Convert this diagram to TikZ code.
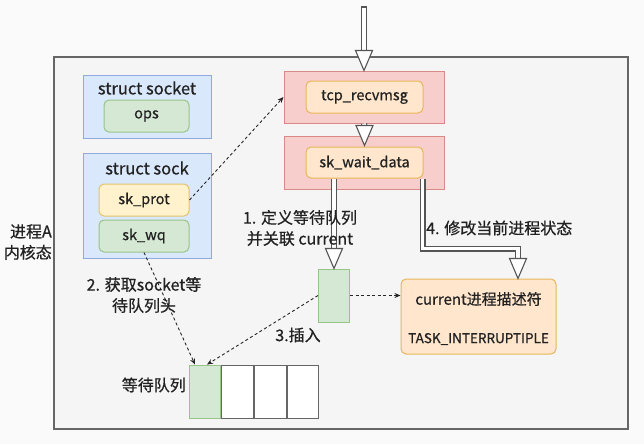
\documentclass[tikz,border=0pt]{standalone}
\usepackage{fontspec}
\setmainfont{Noto Sans CJK SC}[AutoFakeBold=0.7]
\usetikzlibrary{calc,arrows.meta}
\definecolor{bgc}{HTML}{FAFAFA}
\definecolor{outerfill}{HTML}{F5F5F5}
\definecolor{outerdraw}{HTML}{666666}
\definecolor{bluefill}{HTML}{DAE8FC}
\definecolor{bluedraw}{HTML}{8FAADC}
\definecolor{greenfill}{HTML}{D5E8D4}
\definecolor{greendraw}{HTML}{97C48A}
\definecolor{yellowfill}{HTML}{FFF2CC}
\definecolor{yellowdraw}{HTML}{E2C46A}
\definecolor{redfill}{HTML}{F8CECC}
\definecolor{reddraw}{HTML}{D98A88}
\definecolor{orangefill}{HTML}{FFE6CC}
\definecolor{orangedraw}{HTML}{E8B65A}
\definecolor{agray}{HTML}{555555}
\definecolor{txtc}{HTML}{222222}
\newcommand{\hhead}[1]{\draw[hollowhead] ($(#1)+(-8.5,-20)$) -- (#1) -- ($(#1)+(8.5,-20)$) -- cycle;}
\begin{document}
\begin{tikzpicture}[x=1pt,y=-1pt,
  font=\fontsize{16}{21}\selectfont\bfseries,
  txt/.style={text=txtc, inner sep=0pt},
  inlbl/.style={font=\fontsize{14.5}{18}\selectfont\bfseries},
  outerbox/.style={draw=outerdraw, fill=outerfill, line width=1.1pt},
  bluebox/.style={draw=bluedraw, fill=bluefill, line width=1pt, inner sep=0pt},
  greenbox/.style={draw=greendraw, fill=greenfill, line width=1pt, rounded corners=5pt, inner sep=0pt, text=txtc, inlbl},
  greenrect/.style={draw=greendraw, fill=greenfill, line width=1pt, inner sep=0pt},
  yellowbox/.style={draw=yellowdraw, fill=yellowfill, line width=1pt, rounded corners=5pt, inner sep=0pt, text=txtc, inlbl},
  redbox/.style={draw=reddraw, fill=redfill, line width=1pt, inner sep=0pt},
  orangebox/.style={draw=orangedraw, fill=orangefill, line width=1pt, rounded corners=5pt, inner sep=0pt, text=txtc, inlbl},
  cell/.style={draw=outerdraw, fill=white, line width=0.9pt, inner sep=0pt, minimum width=31.7pt, minimum height=53pt},
  dashedarrow/.style={draw=black!85, line width=0.9pt, dash pattern=on 3pt off 2.5pt, -{Stealth[length=6pt,width=5pt]}},
  shaft/.style={draw=agray, line width=1.1pt, double=white, double distance=3.8pt},
  shaftcap/.style={draw=agray, line width=1.1pt},
  hollowhead/.style={draw=agray, line width=1.1pt, fill=white, line join=miter}]
\useasboundingbox (0,0) rectangle (644,444);
\fill[bgc] (0,0) rectangle (644,444);

% outer process box
\node[outerbox, minimum width=574pt, minimum height=372pt, inner sep=0pt] (outer) at (341,243) {};

% struct socket
\node[bluebox, minimum width=128pt, minimum height=63pt] (socket) at (147,106.5) {};
\node[txt, font=\fontsize{16.5}{20}\selectfont\bfseries] (sockettitle) at (147,88) {struct socket};
\node[greenbox, minimum width=85pt, minimum height=32pt] (ops) at (146.5,116) {ops};

% struct sock
\node[bluebox, minimum width=128pt, minimum height=105pt] (sock) at (147,205.5) {};
\node[txt, font=\fontsize{16.5}{20}\selectfont\bfseries] (socktitle) at (147,168) {struct sock};
\node[yellowbox, minimum width=90pt, minimum height=32pt] (skprot) at (144,200) {sk\_prot};
\node[greenbox, minimum width=90pt, minimum height=32pt] (skwq) at (144,236) {sk\_wq};

% red function boxes
\node[redbox, minimum width=160pt, minimum height=52pt] (red1) at (364,97) {};
\node[orangebox, minimum width=117pt, minimum height=32pt] (tcp) at (364.5,97) {tcp\_recvmsg};
\node[redbox, minimum width=160pt, minimum height=53pt] (red2) at (364,162.5) {};
\node[orangebox, minimum width=117pt, minimum height=31pt] (skwait) at (364.5,162.5) {sk\_wait\_data};

% wait queue entry
\node[greenrect, minimum width=31pt, minimum height=53pt] (entry) at (334,295.5) {};

% current descriptor
\node[orangebox, minimum width=155pt, minimum height=75pt] (current) at (478.5,316.5) {};
\node[txt, inlbl, font=\fontsize{15}{18}\selectfont\bfseries] (curtitle) at (478.5,299) {current进程描述符};
\node[txt, font=\fontsize{13.5}{16}\selectfont\bfseries] (curstate) at (478.5,339) {TASK\_INTERRUPTIPLE};

% wait queue
\node[cell, fill=greenfill, draw=greendraw] (q1) at (205,391.5) {};
\node[cell, anchor=west] (q2) at (q1.east) {};
\node[cell, anchor=west] (q3) at (q2.east) {};
\node[cell, anchor=west] (q4) at (q3.east) {};
\node[txt, anchor=east] (qlabel) at (186,385) {等待队列};

% hollow arrows
\coordinate (topstart) at (364,7);
\draw[shaft] (topstart) -- ($(red1.north)+(0,-19)$);
\draw[shaftcap] ($(topstart)+(-3.45,0)$) -- ($(topstart)+(3.45,0)$);
\hhead{red1.north}
\coordinate (tip2) at ($(skwait.north)+(0,-1)$);
\draw[shaft] (red1.south) -- ($(tip2)+(0,-19)$);
\hhead{tip2}
\draw[shaft] (skwait.south -| entry.north) -- ($(entry.north)+(0,-19)$);
\hhead{entry.north}
\coordinate (a4) at ($(skwait.south east)+(-1,0)$);
\coordinate (t4) at ($(current.north)+(39.5,0)$);
\draw[shaft] (a4) |- ($(t4)+(0,-30)$) -- ($(t4)+(0,-19)$);
\hhead{t4}

% dashed arrows
\draw[dashedarrow] (skprot.east) -- (red1.west);
\draw[dashedarrow] (skwq.south) -- ($(q1.north)+(-10,0)$);
\draw[dashedarrow] (entry.west) -- ($(q1.north)+(2,0)$);
\draw[dashedarrow] (entry.east) -- (entry.east -| current.west);

% labels
\node[txt, align=center] (lbl1) at (300,228) {1. 定义等待队列\\并关联 current};
\node[txt, anchor=west] (lbl4) at (426,228) {4. 修改当前进程状态};
\node[txt, align=center] (lbl2) at (144,295) {2. 获取socket等\\待队列头};
\node[txt] (lbl3) at (298,335) {3.插入};
\node[txt, align=right, anchor=east] (lblA) at (52,242) {进程A\\内核态};
\end{tikzpicture}
\end{document}
